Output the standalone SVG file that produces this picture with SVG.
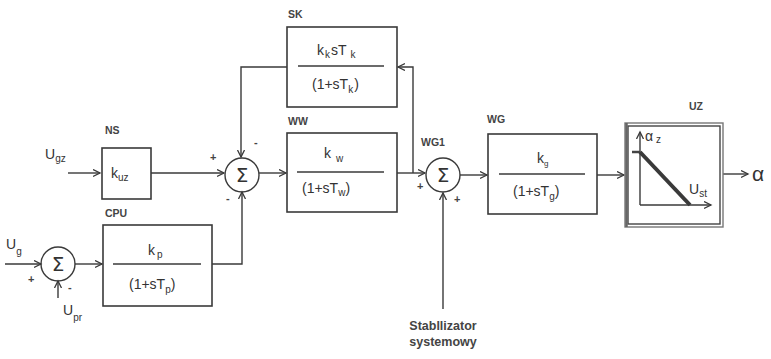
<svg xmlns="http://www.w3.org/2000/svg" width="771" height="359" viewBox="0 0 771 359">
<style>
.bx{fill:none;stroke:#3a3a3a;stroke-width:1.6}
.ln{fill:none;stroke:#3a3a3a;stroke-width:1.4}
.cn{fill:none;stroke:#3a3a3a;stroke-width:1.4}
.m{font-family:"Liberation Sans",Arial,sans-serif;font-size:14px;fill:#333}
.sb{font-size:10px}
.lb{font-family:"Liberation Sans",Arial,sans-serif;font-size:10.5px;font-weight:bold;fill:#444}
.sg{font-family:"Liberation Sans",Arial,sans-serif;font-size:11px;font-weight:bold;fill:#444}
.sig{font-family:"DejaVu Sans",sans-serif;font-size:20px;fill:#333}
.st{font-family:"Liberation Sans",Arial,sans-serif;font-size:12.5px;font-weight:bold;fill:#444}
</style>
<defs>
<marker id="ar" markerWidth="9" markerHeight="9" refX="7" refY="4" orient="auto" markerUnits="userSpaceOnUse">
<path d="M0,0.5 L7,4 L0,7.5" fill="none" stroke="#3a3a3a" stroke-width="1.3"/>
</marker>
</defs>
<g id="connectors">
<path class="cn" d="M68,173 H100" marker-end="url(#ar)"/>
<path class="cn" d="M151,173 H224" marker-end="url(#ar)"/>
<path class="cn" d="M5,264 H41" marker-end="url(#ar)"/>
<path class="cn" d="M58,298 V281" marker-end="url(#ar)"/>
<path class="cn" d="M75,264 H102" marker-end="url(#ar)"/>
<path class="cn" d="M212,264 H242 V192" marker-end="url(#ar)"/>
<path class="cn" d="M287,67 H241 V157" marker-end="url(#ar)"/>
<path class="cn" d="M259,173 H286" marker-end="url(#ar)"/>
<path class="cn" d="M397,173 H425" marker-end="url(#ar)"/>
<path class="cn" d="M413,173 V67 H398" marker-end="url(#ar)"/>
<path class="cn" d="M460,175 H487" marker-end="url(#ar)"/>
<path class="cn" d="M443,309 V193" marker-end="url(#ar)"/>
<path class="cn" d="M597,175 H624" marker-end="url(#ar)"/>
<path class="cn" d="M723,174 H748" marker-end="url(#ar)"/>
</g>
<g id="inputs">
<text class="m" x="45" y="159">U<tspan class="sb" dy="3">gz</tspan></text>
<text class="m" x="6" y="249">U<tspan class="sb" dy="6">g</tspan></text>
<text class="m" x="63" y="315">U<tspan class="sb" dy="6">pr</tspan></text>
<text x="752" y="181" font-family="Liberation Sans,Arial,sans-serif" font-size="21" fill="#333">α</text>
</g>
<g id="NS">
<text class="lb" x="105" y="134">NS</text>
<rect class="bx" x="102" y="148" width="49" height="51"/>
<text class="m" x="111" y="178">k<tspan class="sb" dy="3">uz</tspan></text>
</g>
<g id="SUM2">
<circle class="ln" cx="58" cy="264" r="17"/>
<text class="sig" x="58" y="271" text-anchor="middle">Σ</text>
<text class="sg" x="28" y="283">+</text>
<text class="sg" x="68" y="291">-</text>
</g>
<g id="CPU">
<text class="lb" x="105" y="217">CPU</text>
<rect class="bx" x="103" y="225" width="109" height="81"/>
<text class="m" x="148" y="255">k<tspan class="sb" dx="2" dy="3">p</tspan></text>
<line class="ln" x1="113" y1="264" x2="201" y2="264"/>
<text class="m" x="129" y="289">(1+sT<tspan class="sb" dy="4">p</tspan><tspan dy="-4">)</tspan></text>
</g>
<g id="SUM1">
<circle class="ln" cx="242" cy="175" r="17"/>
<text class="sig" x="242" y="182" text-anchor="middle">Σ</text>
<text class="sg" x="210" y="161">+</text>
<text class="sg" x="254" y="146">-</text>
<text class="sg" x="226" y="202">-</text>
</g>
<g id="SK">
<text class="lb" x="288" y="18">SK</text>
<rect class="bx" x="287" y="27" width="110" height="80"/>
<text class="m" x="317" y="55">k<tspan class="sb" dx="1" dy="3">k</tspan><tspan dx="1" dy="-3">sT</tspan><tspan class="sb" dx="4" dy="3">k</tspan></text>
<line class="ln" x1="298" y1="66" x2="384" y2="66"/>
<text class="m" x="312" y="89">(1+sT<tspan class="sb" dy="4">k</tspan><tspan dx="1" dy="-4">)</tspan></text>
</g>
<g id="WW">
<text class="lb" x="288" y="125">WW</text>
<rect class="bx" x="287" y="133" width="110" height="79"/>
<text class="m" x="324" y="158">k<tspan class="sb" dx="5" dy="4">w</tspan></text>
<line class="ln" x1="297" y1="172" x2="384" y2="172"/>
<text class="m" x="302" y="193">(1+sT<tspan class="sb" dy="3">w</tspan><tspan dy="-3">)</tspan></text>
</g>
<g id="WG1">
<text class="lb" x="421" y="146">WG1</text>
<circle class="ln" cx="443" cy="175" r="17"/>
<text class="sig" x="443" y="182" text-anchor="middle">Σ</text>
<text class="sg" x="417" y="190">+</text>
<text class="sg" x="454" y="203">+</text>
</g>
<g id="STAB">
<text class="st" x="443" y="330" text-anchor="middle">Stabllizator</text>
<text class="st" x="443" y="346" text-anchor="middle">systemowy</text>
</g>
<g id="WG">
<text class="lb" x="487" y="123">WG</text>
<rect class="bx" x="488" y="134" width="109" height="80"/>
<text class="m" x="537" y="163" font-size="10">k<tspan font-size="8" dy="3">g</tspan></text>
<line class="ln" x1="499" y1="174" x2="585" y2="174"/>
<text class="m" x="513" y="196">(1+sT<tspan class="sb" dy="4">g</tspan><tspan dy="-4">)</tspan></text>
</g>
<g id="UZ">
<text class="lb" x="689" y="110">UZ</text>
<rect x="625" y="123" width="98" height="104" fill="none" stroke="#777" stroke-width="1.4"/>
<rect x="628" y="126" width="92" height="98" fill="none" stroke="#444" stroke-width="1.4"/>
<line x1="626.5" y1="123" x2="626.5" y2="227" stroke="#666" stroke-width="2.5"/>
<path class="ln" d="M640,205 V132" marker-end="url(#ar)"/>
<path class="ln" d="M640,205 H711" marker-end="url(#ar)"/>
<line x1="632" y1="152" x2="640" y2="152" stroke="#444" stroke-width="2.5"/>
<line x1="640" y1="152" x2="690" y2="205" stroke="#3a3a3a" stroke-width="4"/>
<text class="m" x="645" y="141" font-size="9">α<tspan dx="3" dy="2" font-size="10">z</tspan></text>
<text class="m" x="689" y="194">U<tspan class="sb" dy="3">st</tspan></text>
</g>
</svg>
